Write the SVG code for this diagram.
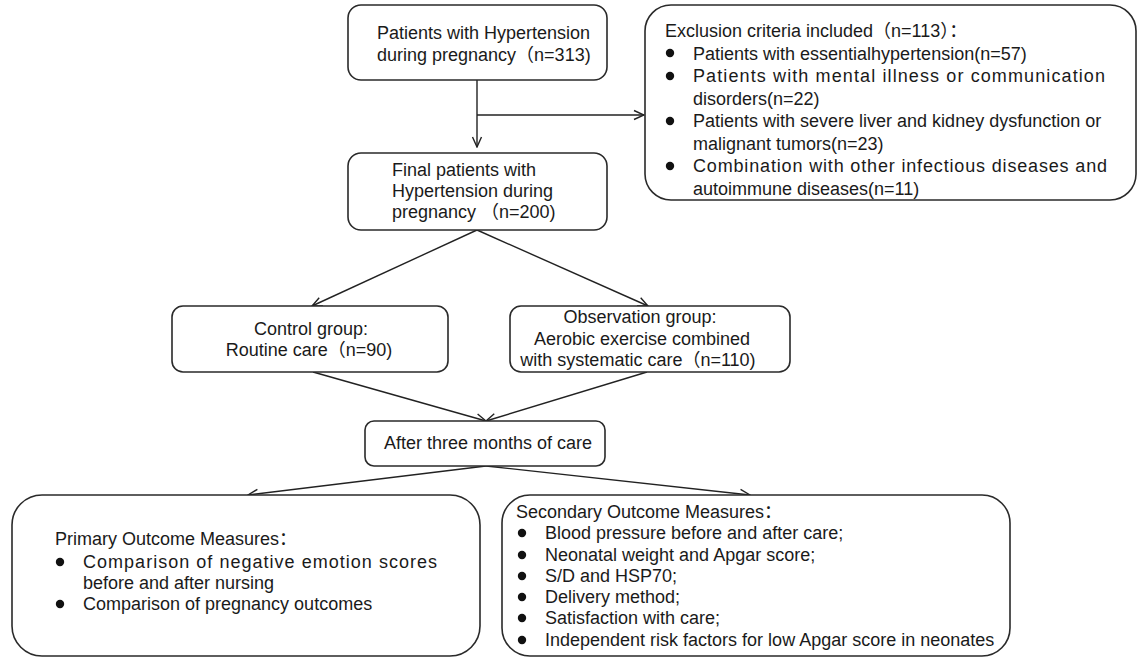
<svg xmlns="http://www.w3.org/2000/svg" width="1140" height="659" viewBox="0 0 1140 659">
<defs>
<marker id="arr" viewBox="0 0 12 12" refX="11" refY="6" markerWidth="12" markerHeight="12" markerUnits="userSpaceOnUse" orient="auto">
<path d="M1,1.5 L11,6 L1,10.5" fill="none" stroke="#222" stroke-width="1.4"/>
</marker>
<style>
.box{fill:#fff;stroke:#2a2a2a;stroke-width:1.6}
.t{font-family:"Liberation Sans",Arial,"Noto Sans CJK SC",sans-serif;font-size:18px;fill:#1a1a1a}
.c{text-anchor:middle}
.ln{fill:none;stroke:#222;stroke-width:1.4}
.b{fill:#111}
</style>
</defs>
<rect width="1140" height="659" fill="#fff"/>
<g id="connectors">
<path class="ln" d="M477,80 V147" marker-end="url(#arr)"/>
<path class="ln" d="M477,115 H644" marker-end="url(#arr)"/>
<path class="ln" d="M477,230 L312,306" marker-end="url(#arr)"/>
<path class="ln" d="M477,230 L648,306" marker-end="url(#arr)"/>
<path class="ln" d="M313,372 L486,421" marker-end="url(#arr)"/>
<path class="ln" d="M647,372 L486,421" marker-end="url(#arr)"/>
<path class="ln" d="M486,466 L248,495" marker-end="url(#arr)"/>
<path class="ln" d="M486,466 L750,495" marker-end="url(#arr)"/>
</g>
<g id="n1">
<rect class="box" x="348" y="5" width="259" height="75" rx="13"/>
<text class="t" x="377" y="39">Patients with Hypertension</text>
<text class="t" x="377" y="61">during pregnancy（n=313)</text>
</g>
<g id="n_excl">
<rect class="box" x="645" y="5" width="491" height="195" rx="26"/>
<text class="t" x="665" y="37">Exclusion criteria included（n=113）：</text>
<circle class="b" cx="670" cy="53" r="4.2"/>
<text class="t" x="693" y="59.5">Patients with essentialhypertension(n=57)</text>
<circle class="b" cx="670" cy="76" r="4.2"/>
<text class="t" x="693" y="82" textLength="412" lengthAdjust="spacing">Patients with mental illness or communication</text>
<text class="t" x="693" y="104.5">disorders(n=22)</text>
<circle class="b" cx="670" cy="121" r="4.2"/>
<text class="t" x="693" y="127">Patients with severe liver and kidney dysfunction or</text>
<text class="t" x="693" y="149.5">malignant tumors(n=23)</text>
<circle class="b" cx="670" cy="166" r="4.2"/>
<text class="t" x="693" y="172" textLength="414" lengthAdjust="spacing">Combination with other infectious diseases and</text>
<text class="t" x="693" y="194.5">autoimmune diseases(n=11)</text>
</g>
<g id="n2">
<rect class="box" x="348" y="153" width="259" height="77" rx="13"/>
<text class="t" x="392" y="176">Final patients with</text>
<text class="t" x="392" y="197">Hypertension during</text>
<text class="t" x="392" y="218">pregnancy （n=200)</text>
</g>
<g id="n_control">
<rect class="box" x="172" y="306" width="276" height="66" rx="11"/>
<text class="t c" x="311" y="335">Control group:</text>
<text class="t c" x="309" y="356">Routine care（n=90)</text>
</g>
<g id="n_obs">
<rect class="box" x="510" y="306" width="280" height="66" rx="11"/>
<text class="t c" x="640" y="323">Observation group:</text>
<text class="t c" x="642" y="345">Aerobic exercise combined</text>
<text class="t c" x="638" y="366">with systematic care（n=110)</text>
</g>
<g id="n_after">
<rect class="box" x="365" y="421" width="240" height="45" rx="9"/>
<text class="t" x="384" y="449">After three months of care</text>
</g>
<g id="n_primary">
<rect class="box" x="12" y="495" width="468" height="161" rx="30"/>
<text class="t" x="55" y="545">Primary Outcome Measures：</text>
<circle class="b" cx="60" cy="562" r="4.2"/>
<text class="t" x="83" y="568" textLength="354" lengthAdjust="spacing">Comparison of negative emotion scores</text>
<text class="t" x="83" y="589">before and after nursing</text>
<circle class="b" cx="60" cy="604" r="4.2"/>
<text class="t" x="83" y="610">Comparison of pregnancy outcomes</text>
</g>
<g id="n_secondary">
<rect class="box" x="502" y="495" width="508" height="161" rx="28"/>
<text class="t" x="516" y="518">Secondary Outcome Measures：</text>
<circle class="b" cx="522" cy="533" r="4.2"/>
<text class="t" x="545" y="539">Blood pressure before and after care;</text>
<circle class="b" cx="522" cy="555" r="4.2"/>
<text class="t" x="545" y="561">Neonatal weight and Apgar score;</text>
<circle class="b" cx="522" cy="576" r="4.2"/>
<text class="t" x="545" y="582">S/D and HSP70;</text>
<circle class="b" cx="522" cy="597" r="4.2"/>
<text class="t" x="545" y="603">Delivery method;</text>
<circle class="b" cx="522" cy="618" r="4.2"/>
<text class="t" x="545" y="624">Satisfaction with care;</text>
<circle class="b" cx="522" cy="640" r="4.2"/>
<text class="t" x="545" y="646">Independent risk factors for low Apgar score in neonates</text>
</g>
</svg>
